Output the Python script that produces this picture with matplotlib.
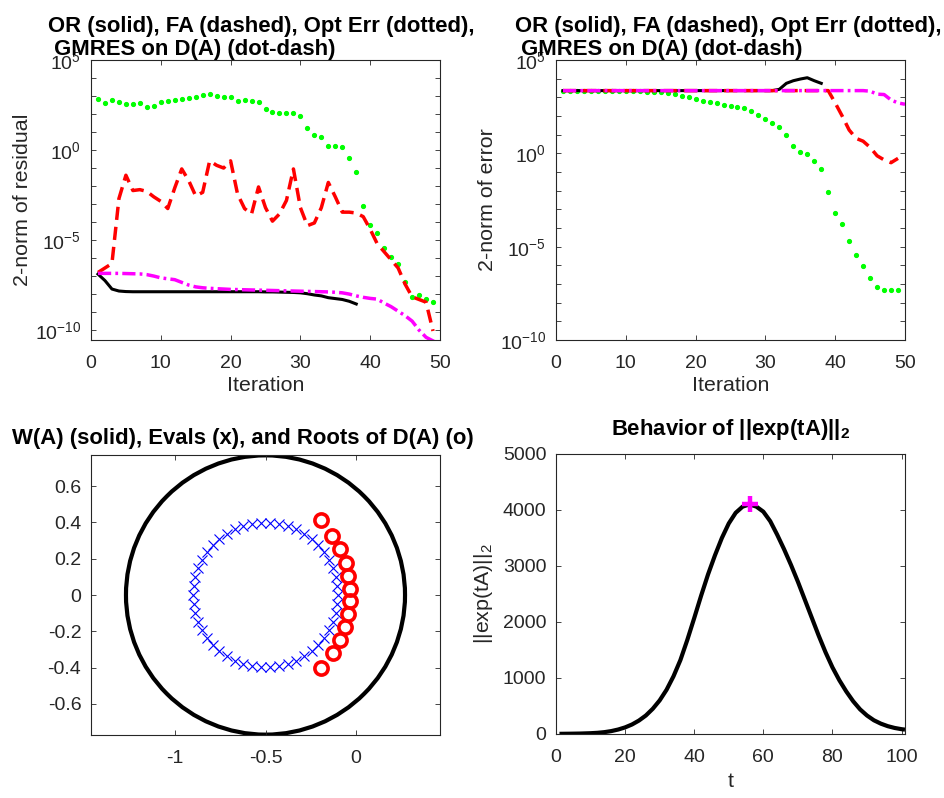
import numpy as np
import matplotlib
matplotlib.use("Agg")
import matplotlib.pyplot as plt
from matplotlib.patches import Circle
from matplotlib.ticker import NullLocator

plt.rcParams['font.family'] = ['Liberation Sans', 'DejaVu Sans']
plt.rcParams['mathtext.fontset'] = 'custom'
plt.rcParams['mathtext.rm'] = 'Liberation Sans'
plt.rcParams['mathtext.it'] = 'Liberation Sans:italic'
plt.rcParams['mathtext.bf'] = 'Liberation Sans:bold'
plt.rcParams['axes.unicode_minus'] = False
plt.rcParams['lines.scale_dashes'] = False

# ---------------- data (log10 of norms) ----------------
iter_or = list(range(1, 39))
iter_49 = list(range(1, 50))
iter_50 = list(range(1, 51))

# top-left: residual norms
res_or = [-6.89, -7.25, -7.72, -7.83, -7.86, -7.87, -7.87, -7.87, -7.87, -7.87,
          -7.87, -7.87, -7.87, -7.87, -7.87, -7.87, -7.87, -7.87, -7.87, -7.87,
          -7.87, -7.87, -7.87, -7.87, -7.88, -7.88, -7.89, -7.90, -7.91, -7.93,
          -7.98, -8.05, -8.10, -8.20, -8.25, -8.30, -8.40, -8.55]
res_fa = [-6.80, -6.55, -6.30, -2.70, -1.40, -2.25, -2.20, -2.30, -2.60, -2.85,
          -3.25, -2.10, -1.05, -1.70, -2.55, -2.35, -0.60, -0.85, -1.00, -0.60,
          -2.45, -3.25, -3.55, -2.05, -3.20, -3.95, -3.55, -2.80, -1.05, -3.20,
          -4.20, -4.05, -3.20, -1.80, -2.60, -3.45, -3.45, -3.50, -3.70, -4.40,
          -5.20, -5.65, -6.10, -6.55, -7.45, -8.15, -8.30, -8.45, -10.05]
res_opt = [2.83, 2.63, 2.76, 2.67, 2.56, 2.54, 2.63, 2.39, 2.46, 2.65,
           2.74, 2.78, 2.83, 2.89, 2.93, 3.07, 3.09, 3.02, 2.96, 2.93,
           2.74, 2.78, 2.74, 2.69, 2.26, 2.11, 2.07, 2.07, 2.07, 1.91,
           1.20, 0.81, 0.70, 0.22, 0.24, 0.19, -0.44, -1.22, -3.10, -4.17,
           -4.62, -5.46, -5.93, -6.31, -7.35, -8.15, -8.06, -8.25, -8.45]
res_gm = [-6.85, -6.85, -6.85, -6.85, -6.86, -6.87, -6.88, -6.92, -7.00, -7.10,
          -7.15, -7.20, -7.35, -7.50, -7.60, -7.65, -7.68, -7.70, -7.72, -7.74,
          -7.75, -7.76, -7.77, -7.78, -7.79, -7.80, -7.81, -7.82, -7.83, -7.84,
          -7.85, -7.86, -7.87, -7.88, -7.90, -7.93, -8.00, -8.10, -8.18, -8.24,
          -8.28, -8.50, -8.70, -8.95, -9.20, -9.50, -10.00, -10.40, -10.60, -10.80]

# top-right: error norms
err_or = [3.36, 3.36, 3.36, 3.36, 3.36, 3.36, 3.36, 3.36, 3.36, 3.36,
          3.36, 3.36, 3.36, 3.36, 3.36, 3.36, 3.36, 3.36, 3.36, 3.36,
          3.36, 3.36, 3.36, 3.36, 3.36, 3.36, 3.36, 3.36, 3.36, 3.36,
          3.36, 3.43, 3.75, 3.89, 3.98, 4.05, 3.89, 3.75]
err_fa = [3.36, 3.36, 3.36, 3.36, 3.36, 3.36, 3.36, 3.36, 3.36, 3.36,
          3.36, 3.36, 3.36, 3.36, 3.36, 3.36, 3.36, 3.36, 3.36, 3.36,
          3.36, 3.36, 3.36, 3.36, 3.36, 3.36, 3.36, 3.36, 3.36, 3.36,
          3.36, 3.36, 3.36, 3.36, 3.36, 3.36, 3.36, 3.36, 3.36, 2.70,
          2.00, 1.25, 0.80, 0.65, 0.32, -0.13, -0.35, -0.50, -0.27]
err_opt = [3.36, 3.36, 3.36, 3.36, 3.36, 3.35, 3.35, 3.35, 3.34, 3.34,
           3.33, 3.32, 3.31, 3.29, 3.26, 3.22, 3.16, 3.09, 3.00, 2.89,
           2.80, 2.75, 2.68, 2.59, 2.54, 2.50, 2.45, 2.29, 2.05, 1.86,
           1.61, 1.39, 1.00, 0.39, 0.09, -0.04, -0.39, -0.86, -2.07, -3.18,
           -3.77, -4.70, -5.46, -6.04, -6.70, -7.16, -7.30, -7.32, -7.32]
err_gm = [3.36, 3.36, 3.36, 3.36, 3.36, 3.36, 3.36, 3.36, 3.36, 3.36,
          3.36, 3.36, 3.36, 3.36, 3.36, 3.36, 3.36, 3.36, 3.36, 3.36,
          3.36, 3.36, 3.36, 3.36, 3.36, 3.36, 3.36, 3.36, 3.36, 3.36,
          3.36, 3.36, 3.36, 3.36, 3.36, 3.36, 3.36, 3.36, 3.36, 3.36,
          3.36, 3.36, 3.36, 3.36, 3.33, 3.17, 3.15, 2.86, 2.70, 2.63]

# bottom-left: field of values (circle), eigenvalues, roots of D(A)
wa_center = -0.5
wa_radius = 0.77
eig_re_upper = [-0.100, -0.103, -0.113, -0.128, -0.150, -0.176, -0.208, -0.245, -0.286,
                -0.330, -0.376, -0.425, -0.475, -0.525, -0.575, -0.624, -0.670, -0.714,
                -0.755, -0.792, -0.824, -0.850, -0.872, -0.887, -0.897, -0.900]
eig_im_upper = [0.000, 0.050, 0.100, 0.147, 0.193, 0.235, 0.274, 0.308, 0.338,
                0.362, 0.380, 0.393, 0.399, 0.399, 0.393, 0.380, 0.362, 0.338,
                0.308, 0.274, 0.235, 0.193, 0.147, 0.100, 0.050, 0.000]
root_re = [-0.195, -0.132, -0.090, -0.058, -0.042, -0.033, -0.034, -0.043, -0.059, -0.090, -0.129, -0.195]
root_im = [0.413, 0.328, 0.251, 0.177, 0.105, 0.034, -0.034, -0.104, -0.174, -0.248, -0.318, -0.401]

# bottom-right: ||exp(tA)||_2
t_vals = [1, 4, 7, 10, 12, 14, 16, 18, 20, 22, 24, 26, 28, 30, 32, 34, 36, 38, 40,
          42, 44, 46, 48, 50, 52, 54, 56, 58, 60, 62, 64, 66, 68, 70, 72, 74, 76, 78,
          80, 82, 84, 86, 88, 90, 92, 94, 96, 98, 100, 101]
norm_vals = [3, 5, 8, 14, 21, 33, 52, 80, 118, 170, 240, 330, 450, 600, 790, 1030,
             1320, 1680, 2070, 2470, 2850, 3190, 3500, 3760, 3950, 4060, 4100, 4060,
             3970, 3800, 3560, 3300, 3020, 2720, 2400, 2080, 1760, 1460, 1190, 960,
             760, 585, 440, 330, 245, 185, 140, 108, 86, 78]
peak_t = 56
peak_val = 4100

# ---------------- styling ----------------
TICK = '#262626'
FS = 14
LFS = 15.4
TFS = 15.9
LW = 2.2

fig = plt.figure(figsize=(9.44, 7.98), dpi=100)
W, H = 944.0, 798.0


def rect(l, t, r, b):
    return [l / W, 1 - b / H, (r - l) / W, (b - t) / H]


def style(ax):
    ax.tick_params(which='both', direction='in', top=True, right=True, length=3.5,
                   width=0.6, colors=TICK, labelsize=FS)
    ax.tick_params(axis='x', pad=10.5)
    ax.tick_params(axis='y', pad=7)
    for sp in ax.spines.values():
        sp.set_color(TICK)
        sp.set_linewidth(0.8)


def log_axis(ax, lo, hi, bottom):
    ax.set_yscale('log')
    ax.set_ylim(10.0 ** bottom, 10.0 ** 5)
    decs = list(range(lo, hi + 1))
    ax.set_yticks([10.0 ** d for d in decs])
    ax.set_yticklabels([(r'$10^{%d}$' % d) if d % 5 == 0 else '' for d in decs])
    ax.yaxis.set_minor_locator(NullLocator())
    ax.set_xlim(0, 50)
    ax.set_xticks([0, 10, 20, 30, 40, 50])


def conv_plot(ax, o, f, opt, g, xo, xf, xopt, xg):
    ax.plot(xopt, 10.0 ** np.array(opt), linestyle='none', marker='.', markersize=5.5,
            color='#00ff00')
    ax.plot(xo, 10.0 ** np.array(o), '-', color='black', lw=LW)
    ax.plot(xf, 10.0 ** np.array(f), color='#ff0000', lw=2.5, dashes=(9.5, 5),
            dash_capstyle='butt')
    ax.plot(xg, 10.0 ** np.array(g), color='#ff00ff', lw=2.5, dashes=(9.5, 3, 2, 3),
            dash_capstyle='butt')


title2 = 'OR (solid), FA (dashed), Opt Err (dotted),\n GMRES on D(A) (dot-dash)'

# top-left
ax1 = fig.add_axes(rect(91, 60, 440, 340))
style(ax1)
log_axis(ax1, -10, 5, -10.55)
conv_plot(ax1, res_or, res_fa, res_opt, res_gm, iter_or, iter_49, iter_49, iter_50)
ax1.set_xlabel('Iteration', fontsize=LFS, color=TICK)
ax1.xaxis.set_label_coords(0.5, -0.128)
ax1.set_ylabel('2-norm of residual', fontsize=LFS, color=TICK)
ax1.yaxis.set_label_coords(-0.17, 0.5)
ax1.text(-0.123, 1.018, title2, transform=ax1.transAxes, ha='left', va='baseline',
         fontsize=TFS, fontweight='bold', linespacing=1.12, multialignment='left')

# top-right
ax2 = fig.add_axes(rect(556, 60, 905, 340))
style(ax2)
log_axis(ax2, -10, 5, -10)
conv_plot(ax2, err_or, err_fa, err_opt, err_gm, iter_or, iter_49, iter_49, iter_50)
ax2.set_xlabel('Iteration', fontsize=LFS, color=TICK)
ax2.xaxis.set_label_coords(0.5, -0.128)
ax2.set_ylabel('2-norm of error', fontsize=LFS, color=TICK)
ax2.yaxis.set_label_coords(-0.169, 0.5)
ax2.text(-0.1175, 1.018, title2, transform=ax2.transAxes, ha='left', va='baseline',
         fontsize=TFS, fontweight='bold', linespacing=1.12, multialignment='left')

# bottom-left
ax3 = fig.add_axes(rect(91, 455, 440, 735))
style(ax3)
ax3.add_patch(Circle((wa_center, 0.0), wa_radius, fill=False, edgecolor='black', lw=3.0))
eig_re = eig_re_upper + eig_re_upper[1:-1][::-1]
eig_im = eig_im_upper + [-v for v in eig_im_upper[1:-1][::-1]]
ax3.plot(eig_re, eig_im, linestyle='none', marker='x', markersize=7, mew=0.8, color='#0000ff')
ax3.plot(root_re, root_im, linestyle='none', marker='o', markersize=9.5, mew=2.6,
         mfc='none', mec='#ff0000')
ax3.set_xlim(-1.463, 0.463)
ax3.set_ylim(-0.772, 0.772)
ax3.set_xticks([-1, -0.5, 0])
ax3.set_xticklabels(['-1', '-0.5', '0'])
ax3.set_yticks([-0.6, -0.4, -0.2, 0, 0.2, 0.4, 0.6])
ax3.set_yticklabels(['-0.6', '-0.4', '-0.2', '0', '0.2', '0.4', '0.6'])
ax3.text(0.434, 1.041, 'W(A) (solid), Evals (x), and Roots of D(A) (o)',
         transform=ax3.transAxes, ha='center', va='baseline', fontsize=TFS,
         fontweight='bold')

# bottom-right
ax4 = fig.add_axes(rect(556, 454, 905, 734))
style(ax4)
ax4.plot(t_vals, norm_vals, '-', color='black', lw=3.0, solid_capstyle='butt')
ax4.plot([peak_t], [peak_val], linestyle='none', marker='+', markersize=11, mew=3.2,
         color='#ff00ff')
ax4.set_xlim(0, 101)
ax4.set_ylim(0, 5000)
ax4.set_xticks([0, 20, 40, 60, 80, 100])
ax4.set_yticks([0, 1000, 2000, 3000, 4000, 5000])
ax4.set_xlabel('t', fontsize=LFS, color=TICK)
ax4.xaxis.set_label_coords(0.5, -0.136)
ax4.set_ylabel(r'||exp(tA)||$_\mathregular{2}$', fontsize=LFS, color=TICK)
ax4.yaxis.set_label_coords(-0.175, 0.5)
ax4.text(0.5, 1.068, r'Behavior of ||exp(tA)||$_\mathregular{2}$', transform=ax4.transAxes,
         ha='center', va='baseline', fontsize=TFS, fontweight='bold')

fig.savefig('out.png', dpi=100)
